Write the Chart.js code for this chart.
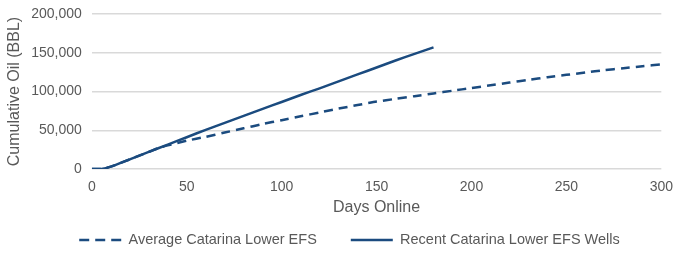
<!DOCTYPE html>
<html>
<head>
<meta charset="utf-8">
<script src="https://cdn.jsdelivr.net/npm/chart.js@4"></script>
<style>
  html, body { margin: 0; padding: 0; background: #fff; }
  #wrap { width: 675px; height: 253px; }
</style>
</head>
<body>
<div id="wrap"><canvas id="oil"></canvas></div>
<script>
// days online and cumulative oil (BBL)
const avgDays = [0, 5, 10, 20, 30, 35, 40, 50, 60, 70, 80, 90, 100, 110, 120, 130, 140, 150,
  160, 170, 180, 190, 200, 210, 220, 230, 240, 250, 260, 270, 280, 290, 300]
const avgOil = [0, 0, 3000, 12500, 22000, 27000, 30500, 36500, 41500, 47000, 52500, 58000, 63000,
  68000, 73000, 78000, 82500, 87000, 90500, 94000, 97500, 101000, 104500, 108000, 111500,
  115000, 118500, 121500, 124500, 127500, 130000, 132500, 135000]

const recentDays = [0, 5, 10, 20, 30, 40, 50, 60, 70, 80, 90, 100, 110, 120, 130, 140, 150, 160, 170, 180]
const recentOil = [0, 0, 3000, 12500, 22000, 31500, 41000, 50500, 59500, 68500, 77500, 86500,
  95500, 104000, 113000, 122000, 131000, 140000, 148500, 157000]

const labels = ['Average Catarina Lower EFS', 'Recent Catarina Lower EFS Wells']

const blue = '#1b4b7f'
const grey = '#595959'
const font = 'Liberation Sans, Arial, sans-serif'

const toPoints = (xs, ys) => xs.map((x, i) => ({ x: x, y: ys[i] }))

// wide gap between legend items, but keep the legend box short
const legendBoxH = 36
const legendTextY = 240
const legendNudgeX = 12
const legendShift = {
    id: 'legendShift',
    beforeInit(chart) {
        const lg = chart.legend
        const fit = lg.fit
        lg.fit = function () { fit.call(this); this.height = legendBoxH }
    },
    beforeDraw(chart) {
        const lg = chart.legend
        const lbl = lg.options.labels
        lg.top = legendTextY - lbl.padding - lbl.font.size / 2
        lg.left = legendNudgeX
        lg.right = chart.width + legendNudgeX
    }
}

const ctx = document.getElementById('oil')

let chart = new Chart(ctx, {
    type: 'line',
    data: {
        datasets: [{
            label: labels[0],
            data: toPoints(avgDays, avgOil),
            borderColor: blue,
            backgroundColor: blue,
            borderWidth: 2.5,
            borderDash: [9, 6],
            pointRadius: 0,
            tension: 0.2
        }, {
            label: labels[1],
            data: toPoints(recentDays, recentOil),
            borderColor: blue,
            backgroundColor: blue,
            borderWidth: 2.5,
            pointRadius: 0,
            tension: 0.2
        }]
    },
    options: {
        responsive: true,
        maintainAspectRatio: false,
        animation: false,
        layout: { padding: { left: 5, right: 0, top: 0, bottom: 0 } },
        plugins: {
            tooltip: { enabled: false },
            legend: {
                position: 'bottom',
                labels: {
                    color: grey,
                    font: { family: font, size: 14.5 },
                    usePointStyle: true,
                    pointStyleWidth: 42,
                    boxHeight: 8,
                    padding: 34,
                    generateLabels: c => c.data.datasets.map((ds, i) => ({
                        text: ds.label,
                        fillStyle: ds.borderColor,
                        strokeStyle: ds.borderColor,
                        lineWidth: 2.5,
                        lineDash: ds.borderDash ? [10, 6] : [],
                        pointStyle: 'line',
                        fontColor: grey,
                        datasetIndex: i,
                        hidden: false
                    }))
                }
            }
        },
        scales: {
            x: {
                type: 'linear',
                min: 0,
                max: 300,
                grid: { display: false },
                border: { display: false },
                ticks: { stepSize: 50, color: grey, font: { family: font, size: 14 }, padding: 2 },
                title: { display: true, text: 'Days Online', color: grey, font: { family: font, size: 16 }, padding: { top: 0, bottom: 0 } }
            },
            y: {
                min: 0,
                max: 200000,
                grid: { color: '#d9d9d9', lineWidth: 1.5, drawTicks: false },
                border: { display: false },
                ticks: { stepSize: 50000, color: grey, font: { family: font, size: 14 }, padding: 10 },
                title: { display: true, text: 'Cumulative Oil (BBL)', color: grey, font: { family: font, size: 16 }, padding: { top: 0, bottom: -3 } },
                afterFit: s => { s.paddingTop = 14 }
            }
        }
    },
    plugins: [legendShift]
})
</script>
</body>
</html>
